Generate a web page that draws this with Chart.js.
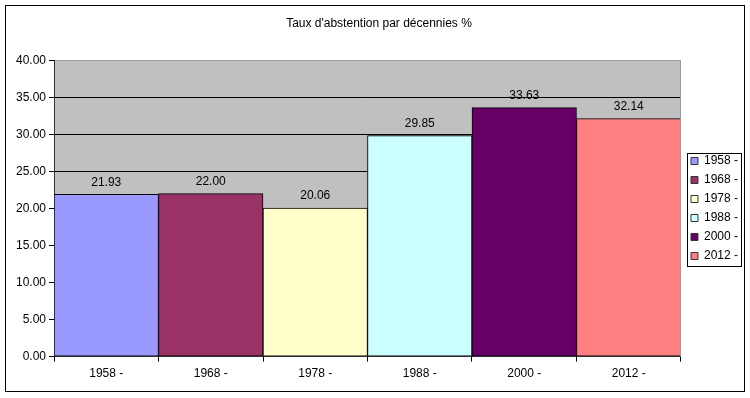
<!DOCTYPE html>
<html>
<head>
<meta charset="utf-8">
<script src="https://cdn.jsdelivr.net/npm/chart.js@4"></script>
<style>
  html, body { margin: 0; padding: 0; background: #fff; }
  #wrap { width: 750px; height: 398px; }
</style>
</head>
<body>
<div id="wrap"><canvas id="chart" width="750" height="398"></canvas></div>
<script>
const categories = ['1958 -', '1968 -', '1978 -', '1988 -', '2000 -', '2012 -'];
const values = [21.93, 22.00, 20.06, 29.85, 33.63, 32.14];
const barColors = ['#9999FF', '#993366', '#FFFFCC', '#CCFFFF', '#660066', '#FF8080'];
const yTicks = [0, 5, 10, 15, 20, 25, 30, 35, 40];

const FONT = { family: 'Arial, "Liberation Sans", sans-serif', size: 12 };

// fond gris de la zone de tracé + cadre extérieur
const background = {
  id: 'background',
  beforeDraw(chart) {
    const { ctx, chartArea: a } = chart;
    ctx.save();
    ctx.fillStyle = '#fff';
    ctx.fillRect(0, 0, chart.width, chart.height);
    ctx.fillStyle = '#C0C0C0';
    ctx.fillRect(a.left, a.top, a.right - a.left, a.bottom - a.top);
    ctx.restore();
  },
  afterDraw(chart) {
    const { ctx, chartArea: a } = chart;
    ctx.save();
    ctx.strokeStyle = '#999';
    ctx.lineWidth = 1;
    ctx.beginPath();
    ctx.moveTo(Math.round(a.right) - 0.5, a.top);
    ctx.lineTo(Math.round(a.right) - 0.5, a.bottom);
    ctx.stroke();
    ctx.strokeStyle = '#000';
    ctx.strokeRect(5.5, 5.5, 739, 386);
    ctx.restore();
  }
};

// valeurs au-dessus des barres
const valueLabels = {
  id: 'valueLabels',
  afterDatasetsDraw(chart) {
    const { ctx } = chart;
    const meta = chart.getDatasetMeta(0);
    ctx.save();
    ctx.font = `${FONT.size}px ${FONT.family}`;
    ctx.fillStyle = '#000';
    ctx.textAlign = 'center';
    ctx.textBaseline = 'middle';
    meta.data.forEach((bar, i) => {
      ctx.fillText(values[i].toFixed(2), bar.x, bar.y - 12);
    });
    ctx.restore();
  }
};

// décale la légende et l'entoure d'un cadre
const legendBox = {
  id: 'legendBox',
  afterLayout(chart) {
    const lg = chart.legend;
    lg.left += 3;
    lg.right += 3;
  },
  afterDraw(chart) {
    const lg = chart.legend;
    const pad = 7, itemH = 12, n = categories.length;
    const colH = n * (itemH + pad);
    const itemsTop = (lg.top + pad + lg.bottom - colH) / 2;
    const x = Math.round(lg.left + 3) + 0.5;
    const y = Math.round(itemsTop - 2.5) + 0.5;
    const h = Math.round((n - 1) * (itemH + pad) + itemH + 6);
    const { ctx } = chart;
    ctx.save();
    ctx.strokeStyle = '#000';
    ctx.lineWidth = 1;
    ctx.strokeRect(x, y, 54, h);
    ctx.restore();
  }
};

new Chart(document.getElementById('chart'), {
  type: 'bar',
  data: {
    labels: categories,
    datasets: [{
      data: values,
      backgroundColor: barColors,
      borderColor: '#000',
      borderWidth: 1,
      borderSkipped: false,
      categoryPercentage: 1,
      barPercentage: 1
    }]
  },
  options: {
    responsive: false,
    animation: false,
    layout: { padding: { left: 13, right: 5, top: 6, bottom: 12 } },
    plugins: {
      title: {
        display: true,
        text: "Taux d'abstention par décennies %",
        color: '#000',
        font: { ...FONT, weight: 'normal' },
        padding: { top: 10, bottom: 30 }
      },
      legend: {
        position: 'right',
        fullSize: false,
        labels: {
          boxWidth: 7,
          boxHeight: 7,
          padding: 7,
          color: '#000',
          font: FONT,
          generateLabels: () => categories.map((c, i) => ({
            text: c,
            fillStyle: barColors[i],
            strokeStyle: '#333',
            lineWidth: 1,
            hidden: false,
            index: i
          }))
        },
        onClick: () => {}
      },
      tooltip: { enabled: false }
    },
    scales: {
      x: {
        grid: {
          drawOnChartArea: false,
          drawTicks: true,
          tickLength: 5,
          tickColor: '#000',
          offset: true
        },
        border: { display: true, color: '#333' },
        ticks: { color: '#000', font: FONT, padding: 5 }
      },
      y: {
        min: 0,
        max: 40,
        afterBuildTicks: axis => { axis.ticks = yTicks.map(v => ({ value: v })); },
        grid: {
          color: ctx => (ctx.tick && ctx.tick.value === 40 ? '#999' : '#000'),
          tickColor: '#000',
          tickLength: 5
        },
        border: { display: true, color: '#333' },
        ticks: {
          color: '#000',
          font: FONT,
          padding: 3,
          callback: v => Number(v).toFixed(2)
        }
      }
    }
  },
  plugins: [background, valueLabels, legendBox]
});
</script>
</body>
</html>
